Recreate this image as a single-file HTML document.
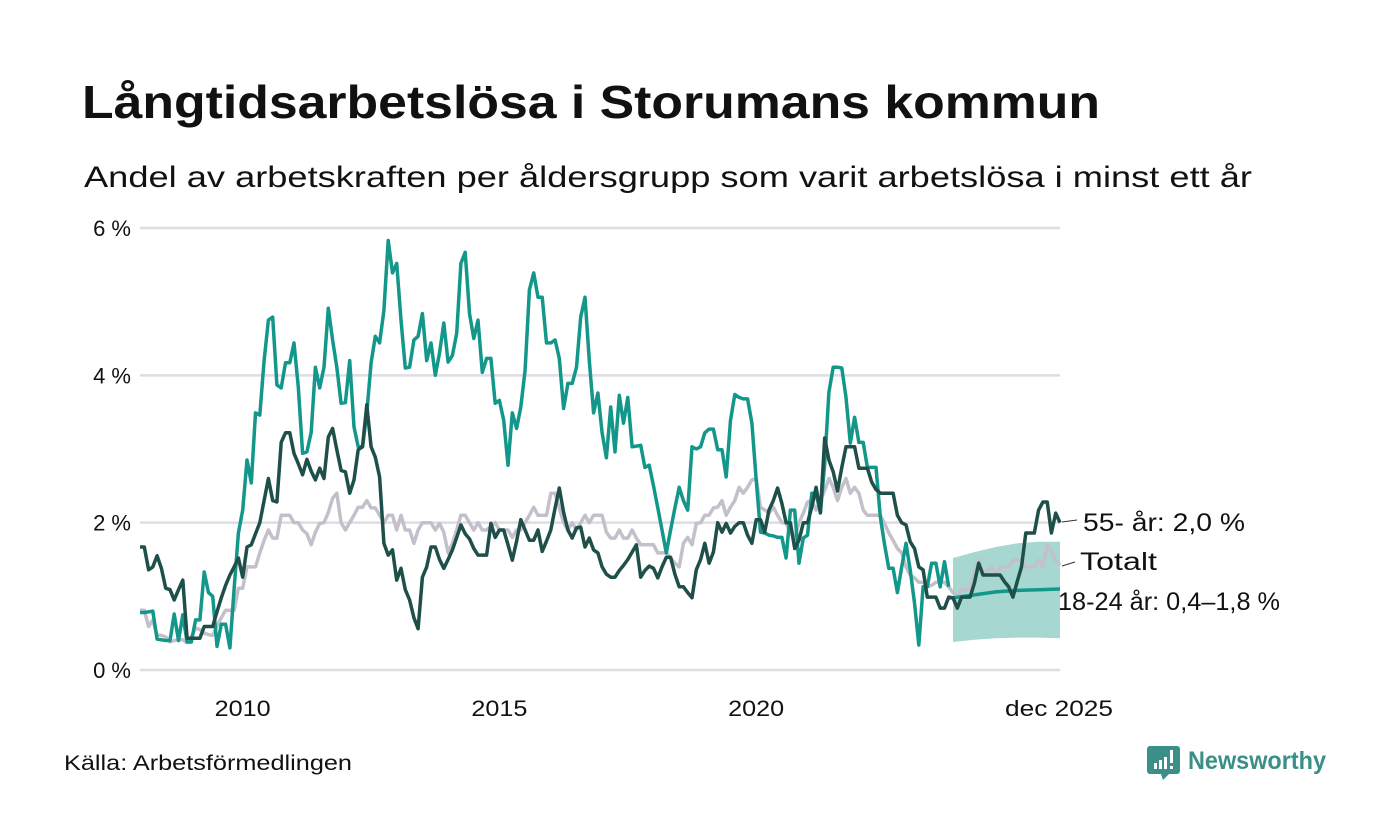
<!DOCTYPE html>
<html><head><meta charset="utf-8"><style>
html,body{margin:0;padding:0;background:#fff;}
svg{display:block;font-family:"Liberation Sans",sans-serif;}
</style></head><body>
<svg id="chart" width="1400" height="840" viewBox="0 0 1400 840">
<text x="82" y="118" font-size="46" font-weight="bold" fill="#111" textLength="1018" lengthAdjust="spacingAndGlyphs">Långtidsarbetslösa i Storumans kommun</text>
<text x="84" y="187" font-size="30" fill="#111" textLength="1168" lengthAdjust="spacingAndGlyphs">Andel av arbetskraften per åldersgrupp som varit arbetslösa i minst ett år</text>
<g id="grid"></g>
<g id="yticks"></g>
<g id="xticks"></g>
<g id="series"></g>
<g>
<line x1="1062" y1="522" x2="1077" y2="520" stroke="#333" stroke-width="1"/>
<text x="1083" y="531" font-size="25" fill="#111" textLength="162" lengthAdjust="spacingAndGlyphs">55- år: 2,0 %</text>
<line x1="1062" y1="566" x2="1075" y2="562" stroke="#333" stroke-width="1"/>
<text x="1080" y="570" font-size="25" fill="#111" textLength="77" lengthAdjust="spacingAndGlyphs">Totalt</text>
<text x="1058" y="610" font-size="25" fill="#111" textLength="222" lengthAdjust="spacingAndGlyphs">18-24 år: 0,4–1,8 %</text>
</g>
<text x="64" y="770" font-size="21" fill="#111" textLength="288" lengthAdjust="spacingAndGlyphs">Källa: Arbetsförmedlingen</text>
<g>
<path d="M1150 746 h27 a3 3 0 0 1 3 3 v22 a3 3 0 0 1 -3 3 h-8 l-6 6 l-2 -6 h-11 a3 3 0 0 1 -3 -3 v-22 a3 3 0 0 1 3 -3z" fill="#3a8f86"/>
<rect x="1154" y="763" width="3" height="6" fill="#fff"/><rect x="1159" y="760" width="3" height="9" fill="#fff"/><rect x="1164" y="757" width="3" height="12" fill="#fff"/><rect x="1170" y="750" width="3" height="13" fill="#fff"/><rect x="1170" y="766" width="3" height="3" fill="#fff"/>
<text x="1188" y="769" font-size="25" font-weight="bold" fill="#3a8f86" textLength="138" lengthAdjust="spacingAndGlyphs">Newsworthy</text>
</g>
</svg>
<script>
const yTicks=[0,2,4,6];
const yTickLabels=["0 %","2 %","4 %","6 %"];
const xTickMonths=[24,84,144,215];
const xTickLabels=["2010","2015","2020","dec 2025"];
// months since Jan 2008, index = month
const youthValues=[0.78,0.78,0.79,0.8,0.42,0.41,0.4,0.4,0.76,0.4,0.75,0.38,0.38,0.68,0.68,1.33,1.05,1.0,0.32,0.62,0.62,0.3,1.1,1.86,2.17,2.85,2.54,3.49,3.46,4.2,4.75,4.79,3.87,3.83,4.17,4.17,4.44,3.84,2.94,2.96,3.23,4.11,3.83,4.11,4.91,4.48,4.11,3.62,3.63,4.2,3.3,3.03,3.03,3.49,4.17,4.53,4.44,4.88,5.83,5.39,5.52,4.75,4.1,4.11,4.48,4.53,4.84,4.2,4.44,4.0,4.3,4.71,4.18,4.27,4.57,5.52,5.67,4.84,4.5,4.75,4.04,4.23,4.23,3.62,3.66,3.39,2.78,3.49,3.28,3.57,4.07,5.16,5.39,5.06,5.06,4.44,4.44,4.48,4.23,3.55,3.89,3.89,4.11,4.79,5.06,4.2,3.49,3.76,3.22,2.88,3.57,2.96,3.73,3.35,3.7,3.03,3.04,3.05,2.75,2.78,2.5,2.2,1.9,1.59,1.9,2.2,2.48,2.3,2.17,3.03,3.0,3.03,3.22,3.27,3.27,2.99,2.99,2.62,3.39,3.74,3.7,3.68,3.68,3.35,2.58,1.87,1.86,1.83,1.82,1.8,1.8,1.52,2.17,2.17,1.45,1.79,1.83,2.4,2.4,2.13,2.8,3.77,4.11,4.11,4.1,3.7,3.08,3.43,3.09,3.09,2.75,2.75,2.75,2.08,1.7,1.38,1.38,1.05,1.4,1.72,1.36,0.91,0.34,1.13,1.13,1.45,1.45,1.13,1.47,1.13];
const forecastMonths=[190,195,200,205,210,215];
const forecastMid=[0.98,1.02,1.06,1.08,1.09,1.1];
const forecastUpper=[1.52,1.6,1.67,1.72,1.74,1.74];
const forecastLower=[0.38,0.41,0.43,0.44,0.44,0.43];
const seniorValues=[1.67,1.67,1.36,1.4,1.55,1.38,1.11,1.09,0.95,1.09,1.22,0.43,0.43,0.43,0.43,0.59,0.59,0.59,0.79,0.98,1.15,1.29,1.4,1.52,1.26,1.67,1.7,1.85,2.0,2.3,2.6,2.3,2.28,3.09,3.22,3.22,2.94,2.8,2.65,2.86,2.7,2.58,2.74,2.6,3.16,3.28,2.99,2.71,2.69,2.4,2.58,2.99,3.03,3.6,3.03,2.89,2.62,1.72,1.56,1.63,1.22,1.38,1.09,0.95,0.71,0.56,1.26,1.4,1.67,1.67,1.5,1.38,1.5,1.63,1.8,1.97,1.85,1.78,1.65,1.56,1.56,1.56,1.99,1.8,1.9,1.9,1.7,1.49,1.75,2.04,1.9,1.76,1.76,1.9,1.61,1.75,1.9,2.2,2.47,2.14,1.9,1.79,1.93,1.94,1.67,1.79,1.63,1.59,1.4,1.3,1.26,1.26,1.35,1.42,1.5,1.6,1.7,1.26,1.35,1.41,1.38,1.25,1.4,1.53,1.53,1.3,1.13,1.13,1.05,0.98,1.36,1.5,1.72,1.45,1.6,2.0,1.87,1.99,1.86,1.95,2.0,2.0,1.83,1.72,2.04,2.04,1.87,2.17,2.3,2.47,2.26,2.0,2.0,1.65,1.76,2.0,2.0,2.21,2.48,2.14,3.15,2.85,2.69,2.43,2.75,3.03,3.03,3.03,2.74,2.74,2.74,2.55,2.45,2.4,2.4,2.4,2.4,2.1,2.0,1.97,1.74,1.65,1.4,1.36,0.99,0.99,0.99,0.84,0.84,0.99,0.98,0.84,0.99,0.99,0.99,1.18,1.45,1.29,1.29,1.29,1.29,1.29,1.2,1.13,0.99,1.2,1.4,1.86,1.86,1.86,2.17,2.28,2.28,1.86,2.13,2.0];
const totalValues=[0.81,0.81,0.59,0.68,0.47,0.47,0.45,0.38,0.4,0.41,0.41,0.37,0.45,0.57,0.55,0.5,0.48,0.47,0.6,0.71,0.81,0.81,0.81,1.11,1.11,1.4,1.4,1.4,1.59,1.76,1.9,1.79,1.79,2.1,2.1,2.1,2.0,2.0,1.9,1.85,1.7,1.87,1.99,2.0,2.14,2.33,2.4,2.0,1.9,2.0,2.1,2.21,2.21,2.3,2.2,2.2,2.1,2.0,2.1,2.1,1.9,2.1,1.9,1.9,1.72,1.9,2.0,2.0,2.0,1.9,1.99,1.87,1.59,1.72,1.9,2.1,2.1,2.0,1.9,2.0,1.9,1.9,1.95,2.0,1.9,1.9,1.9,1.8,1.9,1.9,2.0,2.1,2.21,2.1,2.1,2.1,2.4,2.4,2.2,2.0,1.9,2.0,1.9,2.0,2.1,2.0,2.1,2.1,2.1,1.87,1.79,1.79,1.9,1.79,1.79,1.9,1.79,1.7,1.7,1.7,1.7,1.59,1.59,1.59,1.52,1.45,1.4,1.72,1.8,1.7,1.99,2.0,2.1,2.1,2.2,2.21,2.3,2.1,2.21,2.3,2.48,2.4,2.48,2.58,2.6,2.21,2.17,2.13,2.21,2.1,2.0,2.0,1.86,1.79,2.0,2.13,2.28,2.3,2.17,2.3,2.44,2.6,2.48,2.3,2.48,2.6,2.4,2.48,2.4,2.17,2.1,2.1,2.1,2.1,1.99,1.86,1.76,1.65,1.59,1.4,1.29,1.25,1.19,1.19,1.13,1.15,1.19,1.19,1.19,1.13,1.05,0.99,1.09,1.09,1.09,1.3,1.49,1.29,1.35,1.4,1.29,1.4,1.4,1.4,1.49,1.49,1.49,1.4,1.4,1.4,1.49,1.4,1.7,1.6,1.49,1.42];

const NS='http://www.w3.org/2000/svg';
const X0=140,X1=1060,M1=215,Y0=670,YTOP=228,VMAX=6;
function xScale(m){return X0+(X1-X0)*m/M1;}
function yScale(v){return Y0-(Y0-YTOP)*v/VMAX;}
function mk(tag,attrs,parent){const e=document.createElementNS(NS,tag);for(const k in attrs)e.setAttribute(k,attrs[k]);parent.appendChild(e);return e;}
const grid=document.getElementById('grid'),yt=document.getElementById('yticks'),xt=document.getElementById('xticks'),ser=document.getElementById('series');
yTicks.forEach((v,i)=>{
  const l=mk('line',{x1:X0,x2:X1,y1:yScale(v),y2:yScale(v),stroke:'#dedde3','stroke-width':2.5},grid);
  
  
  const t=mk('text',{x:131,y:yScale(v)+8,'font-size':22,'text-anchor':'end',fill:'#111'},yt);
  t.textContent=yTickLabels[i];
  
  
});
xTickMonths.forEach((m,i)=>{
  const t=mk('text',{x:xScale(m),y:716,'font-size':22,'text-anchor':i===3?'end':'middle',fill:'#111'},xt);
  if(i===3){t.setAttribute('x',X1+53);t.setAttribute('textLength','108');t.setAttribute('lengthAdjust','spacingAndGlyphs');}
  else{t.setAttribute('textLength','56');t.setAttribute('lengthAdjust','spacingAndGlyphs');}
  t.textContent=xTickLabels[i];
  
  
});
function linePath(ms,vs){return vs.map((v,i)=>(i?'L':'M')+xScale(ms[i]).toFixed(1)+' '+yScale(v).toFixed(1)).join(' ');}
function idx(arr){return arr.map((_,i)=>i);}
let bd=forecastUpper.map((v,i)=>(i?'L':'M')+xScale(forecastMonths[i]).toFixed(1)+' '+yScale(v).toFixed(1)).join(' ');
for(let i=forecastLower.length-1;i>=0;i--)bd+=' L'+xScale(forecastMonths[i]).toFixed(1)+' '+yScale(forecastLower[i]).toFixed(1);
const band=mk('path',{d:bd+' Z',fill:'#a6d7d0'},ser);


const pt=mk('path',{d:linePath(idx(totalValues),totalValues),fill:'none',stroke:'#c3c0cc','stroke-width':3.5,'stroke-linejoin':'round'},ser);


const py=mk('path',{d:linePath(idx(youthValues),youthValues),fill:'none',stroke:'#12978a','stroke-width':3.5,'stroke-linejoin':'round'},ser);


const pf=mk('path',{d:linePath(forecastMonths,forecastMid),fill:'none',stroke:'#12978a','stroke-width':3.5},ser);


const ps=mk('path',{d:linePath(idx(seniorValues),seniorValues),fill:'none',stroke:'#1f4f49','stroke-width':3.5,'stroke-linejoin':'round'},ser);


</script>
</body></html>
